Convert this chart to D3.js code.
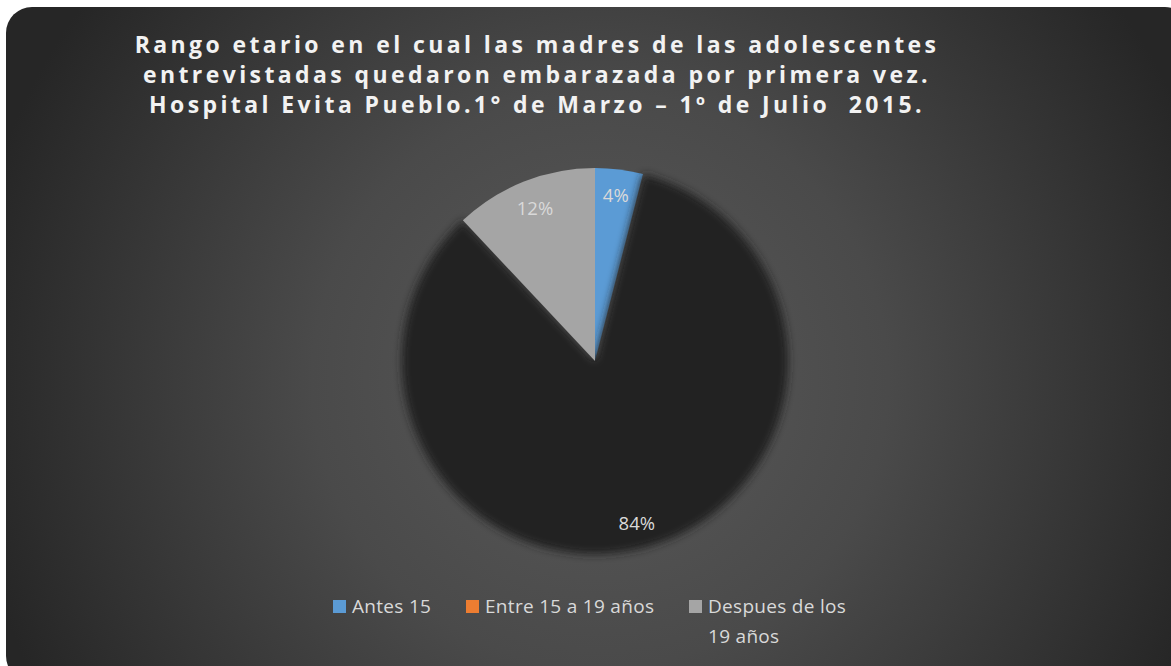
<!DOCTYPE html>
<html>
<head>
<meta charset="utf-8">
<script src="https://cdn.jsdelivr.net/npm/d3@7"></script>
<style>
  html, body { margin: 0; padding: 0; background: #ffffff; }
  svg { display: block; }
</style>
</head>
<body>
<svg id="chart" width="1171" height="666"></svg>
<script>
// Age range in which the adolescents' mothers first became pregnant
const categories = ["Antes 15", "Entre 15 a 19 años", "Despues de los 19 años"];
const values = [4, 84, 12];
const sliceColors = ["#5b9bd5", "#212121", "#a5a5a5"];
const legendColors = ["#5b9bd5", "#ed7d31", "#a5a5a5"];
const titleLines = [
  "Rango etario en el cual las madres de las adolescentes",
  "entrevistadas quedaron embarazada por primera vez.",
  "Hospital Evita Pueblo.1° de Marzo – 1º de Julio\u00a0 2015."
];
const legendLines = [["Antes 15"], ["Entre 15 a 19 años"], ["Despues de los", "19 años"]];

const svg = d3.select("#chart");
const defs = svg.append("defs");

// Background panel: dark radial gradient, rounded corners
const bg = defs.append("radialGradient")
  .attr("id", "bgGrad")
  .attr("gradientUnits", "userSpaceOnUse")
  .attr("cx", 600).attr("cy", 380).attr("r", 640);
bg.append("stop").attr("offset", "0%").attr("stop-color", "#5a5a5a");
bg.append("stop").attr("offset", "45%").attr("stop-color", "#4a4a4a");
bg.append("stop").attr("offset", "100%").attr("stop-color", "#262626");

const soft = defs.append("filter").attr("id", "soft")
  .attr("x", "-20%").attr("y", "-20%").attr("width", "140%").attr("height", "140%");
soft.append("feGaussianBlur").attr("stdDeviation", 4.5);

svg.append("rect")
  .attr("x", 6).attr("y", 7)
  .attr("width", 1185).attr("height", 675)
  .attr("rx", 26).attr("ry", 26)
  .attr("fill", "url(#bgGrad)");

// Title
const title = svg.append("text")
  .attr("text-anchor", "middle")
  .attr("font-family", "'Open Sans', sans-serif")
  .attr("font-weight", "bold")
  .attr("font-size", 23)
  .attr("letter-spacing", 3.4)
  .attr("fill", "#f2f2f2");
titleLines.forEach((line, i) => {
  title.append("tspan")
    .attr("x", 537)
    .attr("y", 53 + i * 30)
    .text(line);
});

// Pie
const cx = 595, cy = 361, radius = 193;
const pie = d3.pie().sort(null).value(d => d);
const arcs = pie(values);
const arc = d3.arc().innerRadius(0).outerRadius(radius);
const labelRadius = [166, 168, 163];

const g = svg.append("g").attr("transform", `translate(${cx},${cy})`);

g.selectAll("path.slice")
  .data(arcs)
  .join("path")
  .attr("class", "slice")
  .attr("d", arc)
  .attr("fill", (d, i) => sliceColors[i])
  .attr("filter", (d, i) => i === 1 ? "url(#soft)" : null);

// Percentage labels
const total = d3.sum(values);
g.selectAll("text.pct")
  .data(arcs)
  .join("text")
  .attr("class", "pct")
  .attr("text-anchor", "middle")
  .attr("font-family", "'Open Sans', sans-serif")
  .attr("font-size", 18.5)
  .attr("fill", "#d9d9d9")
  .attr("transform", (d, i) => {
    const mid = (d.startAngle + d.endAngle) / 2;
    const x = Math.sin(mid) * labelRadius[i];
    const y = -Math.cos(mid) * labelRadius[i];
    return `translate(${x},${y + 6})`;
  })
  .text(d => Math.round(d.data / total * 100) + "%");

// Legend
const legendX = [333, 466, 689];
const legend = svg.append("g")
  .attr("font-family", "'Open Sans', sans-serif")
  .attr("font-size", 19)
  .attr("letter-spacing", 0.3)
  .attr("fill", "#d9d9d9");
categories.forEach((name, i) => {
  const item = legend.append("g").attr("transform", `translate(${legendX[i]},600)`);
  item.append("rect")
    .attr("width", 13).attr("height", 13)
    .attr("fill", legendColors[i]);
  const t = item.append("text");
  legendLines[i].forEach((line, j) => {
    t.append("tspan").attr("x", 19).attr("y", 13 + j * 30).text(line);
  });
});
</script>
</body>
</html>
